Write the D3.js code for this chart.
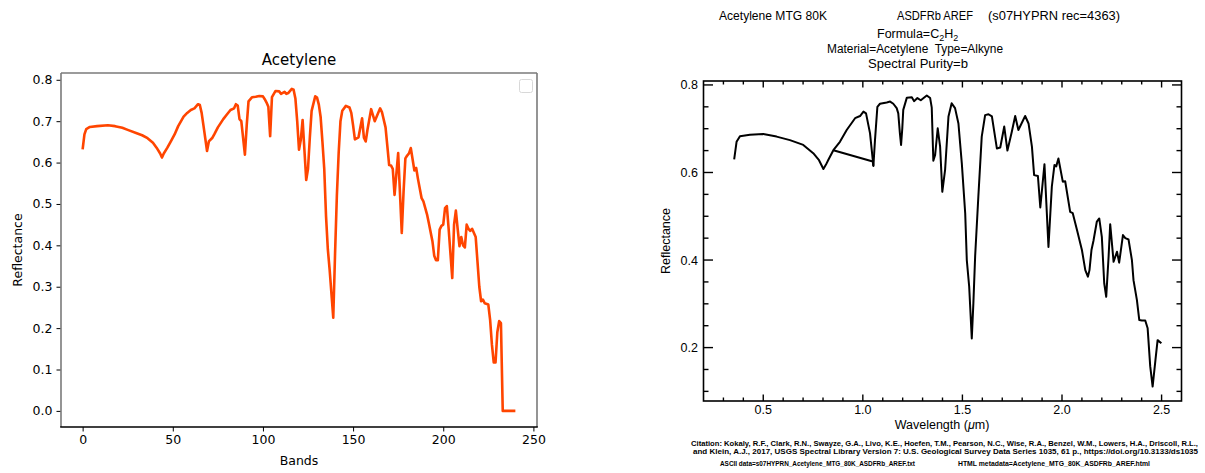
<!DOCTYPE html>
<html>
<head>
<meta charset="utf-8">
<script src="https://cdn.jsdelivr.net/npm/d3@7"></script>
<style>
  body { margin: 0; background: #fff; }
  svg { display: block; }
</style>
</head>
<body>
<svg id="chart" width="1205" height="473"></svg>
<script>
// left panel: resampled spectrum by band index
var bands = [0,1,2,4,8,14,18,22,25,30,33,36,39,41,43,44,45,47,49,51,53,56,58,60,62,64,65,66,67,69,70,72,73,75,78,80,82,84,85,86,87,88,90,91,92,94,96,98,100,101,102,103,104,105,107,109,110,112,113,114,116,117,118,119,120,121,122,124,125,126,127,129,130,131,132,133,134,135,136,137,139,140,141,142,143,144,146,148,149,150,151,153,155,156,157,158,160,162,165,166,168,169,170,171,172,173,175,177,178,179,180,181,182,184,185,186,188,189,191,192,194,195,196,197,198,199,200,201,202,203,204,205,206,207,208,209,210,211,212,213,214,215,216,218,219,220,221,222,223,225,226,227,228,229,230,231,232,233,240];
var bandRefl = [0.632,0.668,0.681,0.686,0.688,0.690,0.688,0.684,0.679,0.671,0.666,0.659,0.648,0.636,0.622,0.612,0.622,0.636,0.652,0.668,0.688,0.711,0.720,0.727,0.731,0.741,0.739,0.720,0.690,0.628,0.651,0.660,0.668,0.685,0.705,0.716,0.727,0.731,0.741,0.738,0.705,0.700,0.619,0.690,0.748,0.758,0.759,0.761,0.760,0.753,0.745,0.735,0.664,0.758,0.773,0.772,0.766,0.771,0.766,0.768,0.778,0.776,0.755,0.700,0.631,0.655,0.703,0.558,0.585,0.660,0.725,0.760,0.757,0.740,0.710,0.650,0.585,0.470,0.390,0.341,0.225,0.380,0.520,0.623,0.700,0.725,0.737,0.733,0.720,0.690,0.656,0.661,0.707,0.660,0.651,0.680,0.729,0.700,0.731,0.722,0.685,0.640,0.594,0.593,0.585,0.522,0.623,0.430,0.530,0.610,0.617,0.622,0.635,0.581,0.587,0.560,0.514,0.506,0.475,0.454,0.410,0.375,0.364,0.364,0.438,0.447,0.450,0.490,0.495,0.440,0.380,0.321,0.450,0.484,0.440,0.398,0.420,0.400,0.395,0.450,0.440,0.435,0.440,0.420,0.360,0.300,0.265,0.269,0.260,0.257,0.220,0.160,0.117,0.117,0.190,0.217,0.212,0.000,0.000];
var leftXTicks = [0, 50, 100, 150, 200, 250];
var leftYTicks = [0.0, 0.1, 0.2, 0.3, 0.4, 0.5, 0.6, 0.7, 0.8];

// right panel: USGS library plot by wavelength
var specWl = [0.354,0.366,0.383,0.433,0.5,0.567,0.634,0.701,0.751,0.78,0.802,0.815,0.827,0.852,1.05,1.053,1.061,1.073,1.086,1.12,1.137,1.153,1.17,1.178,1.186,1.192,1.198,1.203,1.221,1.246,1.257,1.274,1.291,1.321,1.338,1.346,1.354,1.363,1.376,1.388,1.399,1.413,1.43,1.446,1.463,1.48,1.497,1.514,1.522,1.534,1.547,1.555,1.564,1.58,1.597,1.614,1.631,1.648,1.673,1.69,1.71,1.726,1.748,1.765,1.781,1.815,1.832,1.849,1.86,1.879,1.891,1.912,1.932,1.949,1.962,1.971,1.982,2.004,2.016,2.041,2.054,2.075,2.1,2.117,2.13,2.138,2.148,2.158,2.175,2.187,2.2,2.206,2.212,2.222,2.234,2.242,2.259,2.276,2.287,2.306,2.318,2.334,2.351,2.359,2.376,2.388,2.401,2.418,2.43,2.443,2.455,2.469,2.48,2.499];
var specRefl = [0.630,0.670,0.683,0.686,0.688,0.682,0.674,0.663,0.644,0.628,0.608,0.618,0.629,0.651,0.625,0.615,0.674,0.750,0.757,0.760,0.762,0.757,0.747,0.735,0.690,0.663,0.700,0.743,0.771,0.772,0.763,0.770,0.765,0.776,0.770,0.748,0.627,0.640,0.701,0.659,0.556,0.606,0.728,0.758,0.747,0.712,0.621,0.507,0.400,0.339,0.221,0.301,0.410,0.545,0.682,0.731,0.733,0.728,0.655,0.657,0.705,0.650,0.693,0.729,0.697,0.729,0.712,0.659,0.594,0.592,0.520,0.619,0.430,0.568,0.617,0.614,0.632,0.579,0.580,0.510,0.507,0.469,0.423,0.377,0.362,0.377,0.423,0.444,0.488,0.495,0.453,0.400,0.347,0.316,0.408,0.482,0.396,0.419,0.394,0.457,0.450,0.447,0.400,0.354,0.309,0.263,0.262,0.262,0.244,0.157,0.111,0.171,0.217,0.210];
// detector overlap piece drawn separately
var overlapWl = [0.852,0.885,0.919,0.961,0.986,1.003,1.016,1.036,1.053];
var overlapRefl = [0.651,0.670,0.697,0.724,0.729,0.739,0.735,0.690,0.615];
var rightXTicks = [0.5, 1.0, 1.5, 2.0, 2.5];
var rightYTicks = [0.2, 0.4, 0.6, 0.8];

var svg = d3.select("#chart");

// ---------- left chart ----------
var L = {left: 61, right: 537, top: 73, bottom: 427};
var lx = d3.scaleLinear().domain([-12, 252]).range([L.left, L.right]);
var ly = d3.scaleLinear().domain([-0.0389, 0.8164]).range([L.bottom, L.top]);
var mpl = "DejaVu Sans, sans-serif";

var leftG = svg.append("g");

var lineL = d3.line().x(function (d) { return lx(d[0]); }).y(function (d) { return ly(d[1]); });
leftG.append("path")
  .datum(d3.zip(bands, bandRefl))
  .attr("d", lineL)
  .attr("fill", "none")
  .attr("stroke", "#ff4500")
  .attr("stroke-width", 2.6)
  .attr("stroke-linejoin", "round");

var xAxisL = leftG.append("g")
  .attr("transform", "translate(0," + L.bottom + ")")
  .call(d3.axisBottom(lx).tickValues(leftXTicks).tickSize(4.5).tickPadding(4).tickFormat(d3.format("d")));
var yAxisL = leftG.append("g")
  .attr("transform", "translate(" + L.left + ",0)")
  .call(d3.axisLeft(ly).tickValues(leftYTicks).tickSize(4.5).tickPadding(4).tickFormat(d3.format(".1f")));
[xAxisL, yAxisL].forEach(function (a) {
  a.select(".domain").remove();
  a.selectAll("text").attr("font-family", mpl).attr("font-size", 12.5).attr("fill", "#000");
  a.selectAll("line").attr("stroke", "#000").attr("stroke-width", 1);
});

// spines
leftG.append("line").attr("x1", L.left).attr("x2", L.left).attr("y1", L.top).attr("y2", L.bottom).attr("stroke", "#7a7a7a").attr("stroke-width", 1.6);
leftG.append("line").attr("x1", L.right).attr("x2", L.right).attr("y1", L.top).attr("y2", L.bottom).attr("stroke", "#7a7a7a").attr("stroke-width", 1.6);
leftG.append("line").attr("x1", L.left).attr("x2", L.right).attr("y1", L.top).attr("y2", L.top).attr("stroke", "#7a7a7a").attr("stroke-width", 1.6);
leftG.append("line").attr("x1", L.left - 0.8).attr("x2", L.right + 0.8).attr("y1", L.bottom).attr("y2", L.bottom).attr("stroke", "#000").attr("stroke-width", 1.4);

// empty legend box
leftG.append("rect").attr("x", 519.5).attr("y", 79.5).attr("width", 13).attr("height", 13).attr("rx", 2)
  .attr("fill", "#fff").attr("stroke", "#d8d8d8").attr("stroke-width", 1);

leftG.append("text").attr("x", (L.left + L.right) / 2).attr("y", 65).attr("text-anchor", "middle")
  .attr("font-family", mpl).attr("font-size", 15).text("Acetylene");
leftG.append("text").attr("x", (L.left + L.right) / 2).attr("y", 465).attr("text-anchor", "middle")
  .attr("font-family", mpl).attr("font-size", 12.5).text("Bands");
leftG.append("text").attr("transform", "translate(22," + ((L.top + L.bottom) / 2) + ") rotate(-90)")
  .attr("text-anchor", "middle").attr("font-family", mpl).attr("font-size", 12.5).text("Reflectance");

// ---------- right chart ----------
var R = {left: 703.5, right: 1181.5, top: 81, bottom: 401};
var rx = d3.scaleLinear().domain([0.2, 2.6]).range([R.left, R.right]);
var ry = d3.scaleLinear().domain([0.078, 0.809]).range([R.bottom, R.top]);
var idl = "Liberation Sans, Arial, sans-serif";

var rightG = svg.append("g");

var lineR = d3.line().x(function (d) { return rx(d[0]); }).y(function (d) { return ry(d[1]); });
rightG.append("path")
  .datum(d3.zip(specWl, specRefl))
  .attr("d", lineR).attr("fill", "none").attr("stroke", "#000").attr("stroke-width", 2).attr("stroke-linejoin", "round");
rightG.append("path")
  .datum(d3.zip(overlapWl, overlapRefl))
  .attr("d", lineR).attr("fill", "none").attr("stroke", "#000").attr("stroke-width", 2).attr("stroke-linejoin", "round");

rightG.append("rect").attr("x", R.left).attr("y", R.top).attr("width", R.right - R.left).attr("height", R.bottom - R.top)
  .attr("fill", "none").attr("stroke", "#000").attr("stroke-width", 1.6);

// inward ticks on all four sides
var xMinor = d3.range(3, 26).map(function (i) { return i / 10; });
var yMinor = d3.range(2, 17).map(function (i) { return i / 20; });
xMinor.forEach(function (v) {
  var major = rightXTicks.some(function (t) { return Math.abs(t - v) < 1e-6; });
  var len = major ? 6.5 : 3.5;
  rightG.append("line").attr("x1", rx(v)).attr("x2", rx(v)).attr("y1", R.bottom).attr("y2", R.bottom - len).attr("stroke", "#000").attr("stroke-width", 1.4);
  rightG.append("line").attr("x1", rx(v)).attr("x2", rx(v)).attr("y1", R.top).attr("y2", R.top + len).attr("stroke", "#000").attr("stroke-width", 1.4);
});
yMinor.forEach(function (v) {
  var major = rightYTicks.some(function (t) { return Math.abs(t - v) < 1e-6; });
  var len = major ? 9.5 : 5;
  rightG.append("line").attr("x1", R.left).attr("x2", R.left + len).attr("y1", ry(v)).attr("y2", ry(v)).attr("stroke", "#000").attr("stroke-width", 1.4);
  rightG.append("line").attr("x1", R.right).attr("x2", R.right - len).attr("y1", ry(v)).attr("y2", ry(v)).attr("stroke", "#000").attr("stroke-width", 1.4);
});

rightG.selectAll(".xl").data(rightXTicks).enter().append("text")
  .attr("x", function (d) { return rx(d); }).attr("y", 414).attr("text-anchor", "middle")
  .attr("font-family", idl).attr("font-size", 12.5).text(d3.format(".1f"));
rightG.selectAll(".yl").data(rightYTicks).enter().append("text")
  .attr("x", 698).attr("y", function (d) { return ry(d) + 4.5; }).attr("text-anchor", "end")
  .attr("font-family", idl).attr("font-size", 12.5).text(d3.format(".1f"));

var xt = rightG.append("text").attr("x", 942).attr("y", 429).attr("text-anchor", "middle")
  .attr("font-family", idl).attr("font-size", 12.5).text("Wavelength (");
xt.append("tspan").attr("font-style", "italic").text("\u03bc");
xt.append("tspan").text("m)");
rightG.append("text").attr("transform", "translate(670," + ((R.top + R.bottom) / 2) + ") rotate(-90)")
  .attr("text-anchor", "middle").attr("font-family", idl).attr("font-size", 12.5).text("Reflectance");

// header, widths matched to the narrow plotter font
var hdr = [
  {x: 719, y: 20, w: 108, text: "Acetylene MTG 80K"},
  {x: 897, y: 20, w: 76, text: "ASDFRb AREF"},
  {x: 988, y: 20, w: 132, text: "(s07HYPRN rec=4363)"},
  {x: 827, y: 53, w: 176, text: "Material=Acetylene  Type=Alkyne"},
  {x: 868, y: 68, w: 100, text: "Spectral Purity=b"}
];
hdr.forEach(function (h) {
  rightG.append("text").attr("x", h.x).attr("y", h.y).attr("font-family", idl).attr("font-size", 12.5)
    .attr("xml:space", "preserve").attr("textLength", h.w).attr("lengthAdjust", "spacingAndGlyphs").text(h.text);
});
var f = rightG.append("text").attr("x", 877).attr("y", 38)
  .attr("font-family", idl).attr("font-size", 12.5).text("Formula=C");
f.append("tspan").attr("font-size", 9).attr("dy", 3).text("2");
f.append("tspan").attr("dy", -3).text("H");
f.append("tspan").attr("font-size", 9).attr("dy", 3).text("2");

// citation block
var cite = [
  {x: 691, y: 446, w: 507, text: "Citation: Kokaly, R.F., Clark, R.N., Swayze, G.A., Livo, K.E., Hoefen, T.M., Pearson, N.C., Wise, R.A., Benzel, W.M., Lowers, H.A., Driscoll, R.L.,"},
  {x: 693, y: 454, w: 505, text: "and Klein, A.J., 2017, USGS Spectral Library Version 7: U.S. Geological Survey Data Series 1035, 61 p., https://doi.org/10.3133/ds1035"},
  {x: 720, y: 466, w: 195, text: "ASCII data=s07HYPRN_Acetylene_MTG_80K_ASDFRb_AREF.txt"},
  {x: 958, y: 466, w: 192, text: "HTML metadata=Acetylene_MTG_80K_ASDFRb_AREF.html"}
];
cite.forEach(function (c) {
  rightG.append("text").attr("x", c.x).attr("y", c.y).attr("font-family", idl).attr("font-size", 7.5)
    .attr("font-weight", "bold").attr("textLength", c.w).attr("lengthAdjust", "spacingAndGlyphs").text(c.text);
});
</script>
</body>
</html>
